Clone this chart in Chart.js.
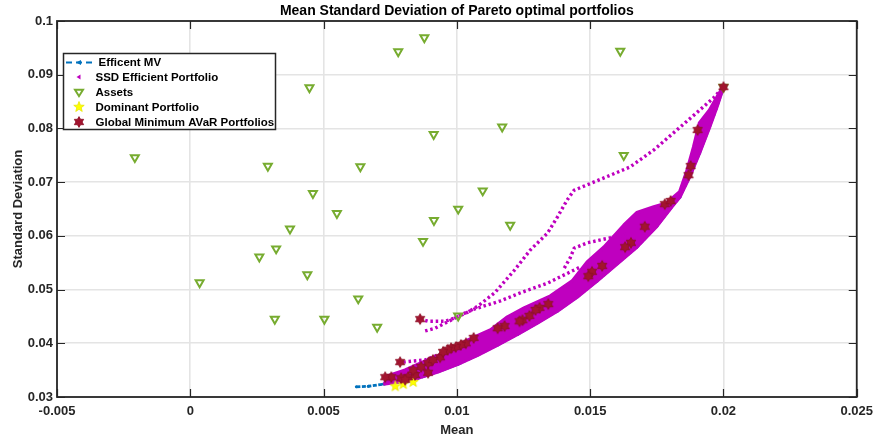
<!DOCTYPE html>
<html>
<head>
<meta charset="utf-8">
<script src="https://cdn.jsdelivr.net/npm/chart.js@4.4.1/dist/chart.umd.min.js"></script>
<style>
  html, body { margin: 0; padding: 0; background: #fff; }
</style>
</head>
<body>
<canvas id="chart" width="880" height="441"></canvas>
<script>
// axis ticks
const xTicks = [-0.005, 0, 0.005, 0.01, 0.015, 0.02, 0.025];
const xTickLabels = ['-0.005', '0', '0.005', '0.01', '0.015', '0.02', '0.025'];
const yTicks = [0.03, 0.04, 0.05, 0.06, 0.07, 0.08, 0.09, 0.1];
const yTickLabels = ['0.03', '0.04', '0.05', '0.06', '0.07', '0.08', '0.09', '0.1'];

// individual assets
const assetMean = [-0.00208, 0.00035, 0.00291, 0.00259, 0.00322, 0.00374, 0.00317, 0.00447, 0.00460, 0.00439,
  0.00503, 0.00550, 0.00638, 0.00630, 0.00701, 0.00780, 0.00878, 0.00913, 0.00914, 0.00873,
  0.01005, 0.01005, 0.01170, 0.01097, 0.01200, 0.01613, 0.01626, 0.02000];
const assetStd = [0.0746, 0.0513, 0.0730, 0.0561, 0.0576, 0.0613, 0.0445, 0.0876, 0.0679, 0.0528,
  0.0445, 0.0642, 0.0729, 0.0483, 0.0430, 0.0943, 0.0969, 0.0789, 0.0629, 0.0590,
  0.0650, 0.0451, 0.0803, 0.0684, 0.0620, 0.0944, 0.0750, 0.0877];

// efficient mean-variance frontier
const mvMean = [0.00623, 0.00668, 0.00724, 0.00780, 0.00854, 0.00929, 0.01004, 0.01078, 0.01153, 0.01228,
  0.01302, 0.01377, 0.01451, 0.01526, 0.01601, 0.01675, 0.01750, 0.01806, 0.01836, 0.01873,
  0.01910, 0.01948, 0.01974, 0.02000];
const mvStd = [0.0319, 0.0320, 0.0324, 0.0328, 0.0335, 0.0347, 0.0361, 0.0378, 0.0397, 0.0417,
  0.0438, 0.0460, 0.0486, 0.0516, 0.0548, 0.0579, 0.0618, 0.0654, 0.0672, 0.0710,
  0.0754, 0.0803, 0.0838, 0.0877];

// SSD efficient portfolios: dense band (upper / lower edge) and sparse branches
const bandUpperMean = [0.00728, 0.00806, 0.00892, 0.00955, 0.01041, 0.01127, 0.01190, 0.01254, 0.01351, 0.01433,
  0.01489, 0.01552, 0.01627, 0.01675, 0.01739, 0.01787, 0.01836, 0.01862, 0.01888, 0.01910,
  0.01948, 0.01985, 0.02000];
const bandUpperStd = [0.0337, 0.0350, 0.0369, 0.0382, 0.0406, 0.0425, 0.0449, 0.0466, 0.0488, 0.0516,
  0.0551, 0.0579, 0.0620, 0.0643, 0.0654, 0.0661, 0.0682, 0.0719, 0.0765, 0.0810,
  0.0834, 0.0866, 0.0877];
const bandLowerMean = [0.00724, 0.00780, 0.00854, 0.00929, 0.01004, 0.01078, 0.01153, 0.01228, 0.01302, 0.01377,
  0.01451, 0.01526, 0.01601, 0.01675, 0.01750, 0.01806, 0.01836, 0.01873, 0.01910, 0.01948,
  0.01974, 0.02000];
const bandLowerStd = [0.0324, 0.0328, 0.0335, 0.0347, 0.0361, 0.0378, 0.0397, 0.0417, 0.0438, 0.0460,
  0.0486, 0.0516, 0.0548, 0.0579, 0.0618, 0.0654, 0.0672, 0.0710, 0.0754, 0.0803,
  0.0838, 0.0877];
const ssd1Mean = [0.00862, 0.00892, 0.00955, 0.00993, 0.01041, 0.01078, 0.01142, 0.01216, 0.01276, 0.01340,
  0.01377, 0.01414, 0.01440, 0.01489, 0.01552, 0.01649, 0.01739, 0.01825, 0.01899, 0.01963, 0.02000];
const ssd1Std = [0.0445, 0.0441, 0.0441, 0.0447, 0.0458, 0.0469, 0.0494, 0.0536, 0.0574, 0.0605,
  0.0635, 0.0667, 0.0685, 0.0695, 0.0708, 0.0728, 0.0760, 0.0797, 0.0829, 0.0857, 0.0877];
const ssd2Mean = [0.00881, 0.00918, 0.00966, 0.01015, 0.01067, 0.01164, 0.01239, 0.01340, 0.01463];
const ssd2Std = [0.0423, 0.0428, 0.0440, 0.0453, 0.0464, 0.0479, 0.0494, 0.0512, 0.0542];
const ssd3Mean = [0.01403, 0.01425, 0.01440, 0.01489, 0.01590, 0.01638];
const ssd3Std = [0.0540, 0.0559, 0.0577, 0.0587, 0.0598, 0.0603];
const ssd4Mean = [0.00799, 0.00836, 0.00881, 0.00929];
const ssd4Std = [0.0365, 0.0367, 0.0369, 0.0378];

// dominant portfolio
const domMean = [0.00769, 0.00799, 0.00836];
const domStd = [0.0320, 0.0324, 0.0328];

// global minimum AVaR portfolios
const avarMean = [0.02000, 0.01903, 0.01877, 0.01869, 0.01780, 0.01802, 0.01705, 0.01653, 0.01631, 0.01545,
  0.01507, 0.01493, 0.01343, 0.01310, 0.01295, 0.01272, 0.01246, 0.01235, 0.01179, 0.01153,
  0.01063, 0.01034, 0.01015, 0.00996, 0.00978, 0.00966, 0.00937, 0.00892, 0.00866, 0.00787,
  0.00862, 0.00892, 0.00817, 0.00791, 0.00754, 0.00731, 0.00806, 0.00843, 0.00836, 0.00910, 0.00948];
const avarStd = [0.0877, 0.0797, 0.0730, 0.0713, 0.0659, 0.0665, 0.0617, 0.0587, 0.0579, 0.0544,
  0.0533, 0.0525, 0.0473, 0.0466, 0.0462, 0.0451, 0.0443, 0.0441, 0.0432, 0.0428,
  0.0410, 0.0400, 0.0397, 0.0393, 0.0391, 0.0388, 0.0374, 0.0363, 0.0356, 0.0365,
  0.0445, 0.0345, 0.0337, 0.0335, 0.0337, 0.0337, 0.0332, 0.0341, 0.0350, 0.0369, 0.0384];

const BLUE = '#0072BD', MAG = '#BF00BF', GREEN = '#77AC30', RED = '#A2142F', YEL = '#FFFF00', INK = '#262626';
const FONT = '"Liberation Sans", Arial, Helvetica, sans-serif';

function pts(xs, ys) { return xs.map((v, i) => ({ x: v, y: ys[i] })); }

// star shaped marker drawn on a small canvas
function starMarker(n, R, ratio, fill, edge) {
  const c = document.createElement('canvas');
  const s = Math.ceil(2 * R + 3);
  c.width = s; c.height = s;
  const g = c.getContext('2d');
  g.translate(s / 2, s / 2);
  g.beginPath();
  for (let i = 0; i < 2 * n; i++) {
    const r = i % 2 === 0 ? R : R * ratio;
    const a = -Math.PI / 2 + i * Math.PI / n;
    g.lineTo(r * Math.cos(a), r * Math.sin(a));
  }
  g.closePath();
  g.fillStyle = fill; g.fill();
  g.lineWidth = 0.8; g.strokeStyle = edge; g.stroke();
  return c;
}
const hexagram = starMarker(6, 5.4, 0.577, RED, '#8c0f26');
const pentagram = starMarker(5, 5.5, 0.42, YEL, '#e6e600');

const bandPoly = pts(bandUpperMean, bandUpperStd).concat(pts(bandLowerMean, bandLowerStd).reverse());

function branch(xs, ys) {
  return {
    data: pts(xs, ys), showLine: true, borderColor: MAG, borderWidth: 3.4,
    borderDash: [2.5, 2.8], pointRadius: 0, order: 3
  };
}

const decor = {
  id: 'decor',
  afterDraw(chart) {
    const { ctx, chartArea: a, scales } = chart;
    const sx = scales.x, sy = scales.y;
    ctx.save();
    ctx.strokeStyle = INK;
    ctx.lineWidth = 1.2;
    ctx.beginPath();
    xTicks.forEach(v => {
      const p = Math.round(sx.getPixelForValue(v)) + 0.5;
      ctx.moveTo(p, a.bottom); ctx.lineTo(p, a.bottom - 8);
      ctx.moveTo(p, a.top); ctx.lineTo(p, a.top + 8);
    });
    yTicks.forEach(v => {
      const p = Math.round(sy.getPixelForValue(v)) + 0.5;
      ctx.moveTo(a.left, p); ctx.lineTo(a.left + 8, p);
      ctx.moveTo(a.right, p); ctx.lineTo(a.right - 8, p);
    });
    ctx.stroke();
    ctx.lineWidth = 1.8;
    ctx.strokeRect(a.left, a.top, a.right - a.left, a.bottom - a.top);

    // titles
    ctx.fillStyle = '#000';
    ctx.textAlign = 'center';
    ctx.textBaseline = 'middle';
    ctx.font = 'bold 14px ' + FONT;
    ctx.fillText('Mean Standard Deviation of Pareto optimal portfolios', (a.left + a.right) / 2, 11);
    ctx.fillStyle = INK;
    ctx.font = 'bold 13px ' + FONT;
    ctx.fillText('Mean', (a.left + a.right) / 2, 430);
    ctx.save();
    ctx.translate(18, (a.top + a.bottom) / 2);
    ctx.rotate(-Math.PI / 2);
    ctx.fillText('Standard Deviation', 0, 0);
    ctx.restore();

    // legend
    const L = 63.5, T = 53.5, W = 212, H = 76;
    ctx.fillStyle = '#fff';
    ctx.fillRect(L, T, W, H);
    ctx.lineWidth = 1.5;
    ctx.strokeStyle = INK;
    ctx.strokeRect(L, T, W, H);
    const rows = [62.5, 77, 92, 107, 122];
    const mx = 79;
    // MV sample
    ctx.strokeStyle = BLUE; ctx.lineWidth = 2; ctx.setLineDash([6, 4]);
    ctx.beginPath(); ctx.moveTo(66, rows[0]); ctx.lineTo(94, rows[0]); ctx.stroke();
    ctx.setLineDash([]);
    ctx.fillStyle = BLUE;
    ctx.beginPath(); ctx.moveTo(mx - 3, rows[0]); ctx.lineTo(mx + 2, rows[0] - 2.5); ctx.lineTo(mx + 2, rows[0] + 2.5); ctx.closePath(); ctx.fill();
    // SSD sample
    ctx.fillStyle = MAG;
    ctx.beginPath(); ctx.moveTo(mx - 2.5, rows[1]); ctx.lineTo(mx + 1.5, rows[1] - 2.5); ctx.lineTo(mx + 1.5, rows[1] + 2.5); ctx.closePath(); ctx.fill();
    // asset sample
    ctx.strokeStyle = GREEN; ctx.lineWidth = 2;
    ctx.beginPath(); ctx.moveTo(mx - 4, rows[2] - 2.3); ctx.lineTo(mx + 4, rows[2] - 2.3); ctx.lineTo(mx, rows[2] + 4.2); ctx.closePath(); ctx.stroke();
    ctx.drawImage(pentagram, mx - pentagram.width / 2, rows[3] - pentagram.height / 2);
    ctx.drawImage(hexagram, mx - hexagram.width / 2, rows[4] - hexagram.height / 2);

    ctx.fillStyle = '#000';
    ctx.textAlign = 'left';
    ctx.font = 'bold 11.5px ' + FONT;
    const names = ['Efficent MV', 'SSD Efficient Portfolio', 'Assets', 'Dominant Portfolio', 'Global Minimum AVaR Portfolios'];
    names.forEach((t, i) => ctx.fillText(t, i === 0 ? 98.5 : 95.5, rows[i] + 0.5));
    ctx.restore();
  }
};

const ctx = document.getElementById('chart').getContext('2d');
new Chart(ctx, {
  type: 'scatter',
  data: {
    datasets: [
      {
        label: 'Global Minimum AVaR Portfolios', data: pts(avarMean, avarStd),
        pointStyle: hexagram, pointRadius: 5, order: 0
      },
      {
        label: 'Dominant Portfolio', data: pts(domMean, domStd),
        pointStyle: pentagram, pointRadius: 5, order: 1
      },
      {
        label: 'Assets', data: pts(assetMean, assetStd),
        pointStyle: 'triangle', rotation: 180, pointRadius: 4.6,
        borderColor: GREEN, borderWidth: 2, backgroundColor: 'rgba(0,0,0,0)', order: 2
      },
      branch(ssd1Mean, ssd1Std),
      branch(ssd2Mean, ssd2Std),
      branch(ssd3Mean, ssd3Std),
      branch(ssd4Mean, ssd4Std),
      {
        label: 'SSD Efficient Portfolio', data: bandPoly, showLine: true, fill: 'shape',
        borderColor: MAG, backgroundColor: MAG, borderWidth: 3.5, borderJoinStyle: 'round',
        pointRadius: 0, order: 4
      },
      {
        label: 'Efficent MV', data: pts(mvMean, mvStd), showLine: true,
        borderColor: BLUE, borderWidth: 2.8, borderDash: [4, 1.5],
        pointRadius: 1.5, pointBackgroundColor: BLUE, pointBorderWidth: 0, order: 5
      }
    ]
  },
  plugins: [decor],
  options: {
    responsive: false,
    animation: false,
    events: [],
    layout: { padding: { left: 0, right: 19, top: 21, bottom: 0 } },
    plugins: { legend: { display: false }, tooltip: { enabled: false }, title: { display: false } },
    scales: {
      x: {
        type: 'linear', min: -0.005, max: 0.025,
        afterBuildTicks: s => { s.ticks = xTicks.map(v => ({ value: v })); },
        afterFit: s => { s.height = 44; },
        grid: { color: '#e4e4e4', lineWidth: 1.6, drawTicks: false },
        border: { display: false },
        ticks: {
          padding: 7, color: INK, maxRotation: 0, autoSkip: false,
          font: { family: FONT, size: 13, weight: 'bold' },
          callback: (v, i) => xTickLabels[i]
        }
      },
      y: {
        type: 'linear', min: 0.03, max: 0.1,
        afterBuildTicks: s => { s.ticks = yTicks.map(v => ({ value: v })); },
        afterFit: s => { s.width = 57; },
        grid: { color: '#e4e4e4', lineWidth: 1.6, drawTicks: false },
        border: { display: false },
        ticks: {
          padding: 4, color: INK, autoSkip: false,
          font: { family: FONT, size: 13, weight: 'bold' },
          callback: (v, i) => yTickLabels[i]
        }
      }
    }
  }
});
</script>
</body>
</html>
